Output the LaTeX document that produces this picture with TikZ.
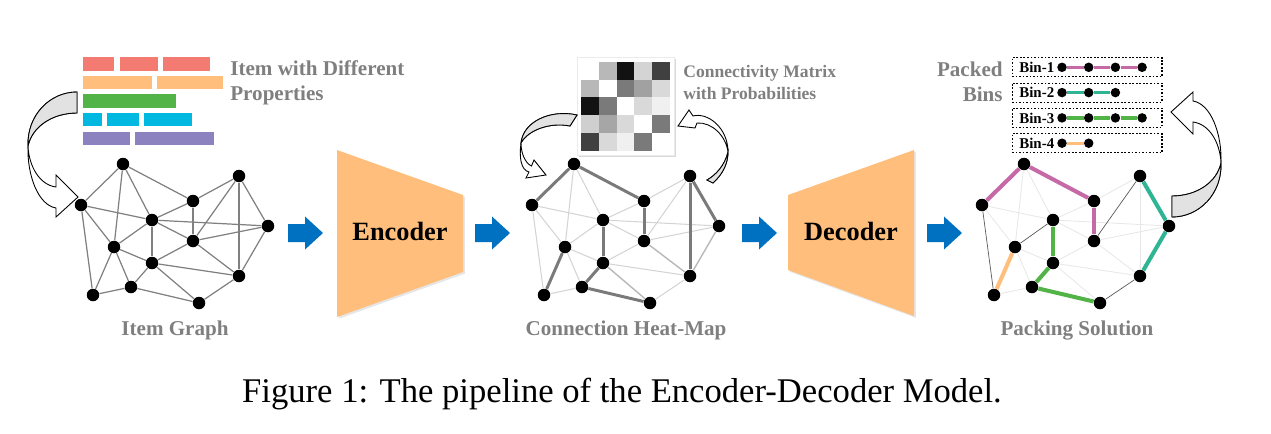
\documentclass[tikz,border=0pt]{standalone}
\usepackage{fontspec}
\setmainfont{Liberation Serif}
\usetikzlibrary{arrows.meta,shadows,positioning}

\definecolor{labgray}{HTML}{7F7F7F}
\definecolor{itemred}{HTML}{F47B72}
\definecolor{itemorange}{HTML}{FFBE7B}
\definecolor{itemgreen}{HTML}{52B447}
\definecolor{itemcyan}{HTML}{00B8E0}
\definecolor{itempurple}{HTML}{8C82C0}
\definecolor{binpink}{HTML}{C56AA6}
\definecolor{binteal}{HTML}{2FB594}
\definecolor{encfill}{HTML}{FFBE7B}
\definecolor{flowblue}{HTML}{0070C0}
\definecolor{turngray}{HTML}{E2E2E2}

\tikzstyle{vtx} = [circle, fill=black, inner sep=0pt, minimum size=0.25cm]
\tikzstyle{bindot} = [circle, fill=black, inner sep=0pt, minimum size=0.19cm]
\tikzstyle{graylabel} = [inner sep=0pt, text=labgray, font=\fontsize{12}{14.2}\selectfont\bfseries]
\tikzstyle{codertext} = [inner sep=0pt, font=\fontsize{15}{18}\selectfont\bfseries]
\tikzstyle{itemedge} = [draw=black!50, line width=0.7pt]
\tikzstyle{heatlight} = [draw=black!17, line width=0.6pt]
\tikzstyle{heatmid} = [draw=black!28, line width=0.8pt]
\tikzstyle{heatdark} = [draw=black!52, line width=1.7pt]
\tikzstyle{packfaint} = [draw=black!9, line width=0.5pt]
\tikzstyle{packthin} = [draw=black!65, line width=0.4pt]
\tikzstyle{packed} = [line width=2.3pt]
\tikzstyle{binbox} = [draw, dash pattern=on 1pt off 1pt, line width=0.6pt, minimum width=3cm, minimum height=0.38cm, inner sep=0pt]

\tikzset{
    bigturn/.pic={
        \draw[fill=white, line width=0.5pt] (-1,-105) .. controls (-28,-105) and (-51,-82) .. (-50,-51)
            .. controls (-51,-22) and (-40,8) .. (-22,11) -- (-22,20) -- (0,0) -- (-22,-22) -- (-22,-10)
            .. controls (-38,-12) and (-49,-30) .. (-50,-51)
            .. controls (-46,-70) and (-26,-84) .. (-1,-84) -- cycle;
        \draw[fill=turngray, line width=0.5pt] (-1,-105) .. controls (-28,-105) and (-51,-82) .. (-50,-51)
            .. controls (-46,-70) and (-26,-84) .. (-1,-84) -- cycle;
    },
    flowarr/.pic={
        \fill[flowblue] (0,-9) -- (17,-9) -- (17,-16.5) -- (35,0) -- (17,16.5) -- (17,9) -- (0,9) -- cycle;
    }
}

\begin{document}
\begin{tikzpicture}[x=0.02cm, y=-0.02cm]
    \useasboundingbox (0,0) rectangle (1271,433);

    % items
    \foreach \ya/\yb/\col/\xs in {57/71/itemred/{83/114,120/158,163/210},
        76/89/itemorange/{83/152,157/223}, 94/108/itemgreen/{83/176},
        113/126/itemcyan/{83/102,107/139,144/192}, 132/145/itempurple/{83/130,135/214}}
        \foreach \xa/\xb in \xs
            \fill[\col] (\xa,\ya) rectangle (\xb,\yb);

    \node[graylabel, align=left, anchor=west] (itemtxt) at (230,82.5) {
        Item with Different\\Properties
    };

    % the three graphs
    \foreach \gp/\dx in {L/0, M/451, R/901}
        \foreach \n/\x/\y in {a/123/164, b/81/205, c/239/176, d/193/201, e/152/220,
            f/268/226, g/193/241, h/114/247, i/152/263, j/239/276, k/131/287,
            l/93/295, m/199/303}
            \node[vtx] (\gp\n) at (\x+\dx,\y) {};

    \foreach \u/\v in {a/b,a/h,a/e,a/d,b/e,b/h,b/l,c/d,c/g,c/j,c/f,d/e,d/g,e/f,e/h,
        e/i,e/g,f/g,f/j,g/i,g/j,h/i,h/k,h/l,i/k,i/j,i/m,l/k,k/m,m/j}
        \draw[itemedge] (L\u) -- (L\v);

    \foreach \u/\v in {a/h,a/e,b/e,b/h,b/l,c/d,c/g,d/e,e/f,e/h,e/g,f/g,g/i,h/i,h/k,i/j,l/k,m/j}
        \draw[heatlight] (M\u) -- (M\v);
    \foreach \u/\v in {f/j,g/j,i/m}
        \draw[heatmid] (M\u) -- (M\v);
    \foreach \u/\v in {a/b,a/d,d/g,e/i,c/j,c/f,h/l,i/k,k/m}
        \draw[heatdark] (M\u) -- (M\v);

    \foreach \u/\v in {a/h,a/e,b/e,b/h,c/d,c/j,d/e,e/f,e/g,f/g,g/i,g/j,h/i,h/k,i/j,i/m,l/k}
        \draw[packfaint] (R\u) -- (R\v);
    \foreach \u/\v in {b/l,c/g,e/h,m/j}
        \draw[packthin] (R\u) -- (R\v);
    \foreach \u/\v/\col in {a/b/binpink,a/d/binpink,d/g/binpink,c/f/binteal,f/j/binteal,
        e/i/itemgreen,i/k/itemgreen,k/m/itemgreen,h/l/itemorange}
        \draw[packed, \col] (R\u) -- (R\v);

    \pic at (78,197) {bigturn};
    \pic[rotate=180] at (1171,112) {bigturn};

    % connectivity matrix
    \node[fill=white, draw=black!8, drop shadow={opacity=0.3, shadow xshift=1.2pt, shadow yshift=-1.2pt},
        minimum width=1.94cm, minimum height=1.96cm, inner sep=0pt] (mat) at (625.5,106) {};
    \foreach \r/\row in {1/{0,28,93,17,75}, 2/{28,0,52,37,15}, 3/{93,52,0,15,6},
        4/{19,35,15,0,52}, 5/{75,15,6,52,0}}
        \foreach \v [count=\c] in \row
            \fill[black!\v] (563.2+17.8*\c, 43.9+17.8*\r) rectangle +(17.8,17.8);

    \node[graylabel, align=left, anchor=west, font=\fontsize{10}{12}\selectfont\bfseries] (mattxt) at (683,82.5) {
        Connectivity Matrix\\with Probabilities
    };

    \draw[fill=white, line width=0.5pt] (577,115) .. controls (550,109) and (523,122) .. (521,143)
        .. controls (519,158) and (521,170) .. (529,172) -- (526,178) -- (546,175) -- (534,160) -- (531.5,166)
        .. controls (525,163) and (521,153) .. (521,143)
        .. controls (528,130) and (550,122) .. (570,126) -- cycle;
    \draw[fill=turngray, line width=0.5pt] (577,115) .. controls (550,109) and (523,122) .. (521,143)
        .. controls (528,130) and (550,122) .. (570,126) -- cycle;

    \draw[fill=white, line width=0.5pt] (713,183) .. controls (723,174) and (728,163) .. (728,152)
        .. controls (728,128) and (708,112) .. (693,116) -- (689,110) -- (678,126) -- (695,128) -- (697,123)
        .. controls (712,122) and (726,136) .. (728,152)
        .. controls (725,165) and (716,175) .. (707,180) -- cycle;
    \draw[fill=turngray, line width=0.5pt] (713,183) .. controls (723,174) and (728,163) .. (728,152)
        .. controls (725,165) and (716,175) .. (707,180) -- cycle;

    % encoder / decoder
    \fill[encfill, drop shadow={opacity=0.2, shadow xshift=1pt, shadow yshift=-1pt}]
        (337,150) -- (463,195) -- (463,272) -- (337,317) -- cycle;
    \node[codertext, anchor=base] (enc) at (400,240) {Encoder};

    \fill[encfill, drop shadow={opacity=0.2, shadow xshift=1pt, shadow yshift=-1pt}]
        (788,195) -- (914,150) -- (914,316) -- (788,270) -- cycle;
    \node[codertext, anchor=base] (dec) at (851,240) {Decoder};

    \foreach \x in {288,475,742,927}
        \pic at (\x,233) {flowarr};

    % packed bins
    \node[graylabel, align=right, anchor=east] (bintxt) at (1003,82) {Packed\\Bins};
    \foreach \k/\n/\col in {1/4/binpink, 2/3/binteal, 3/4/itemgreen, 4/2/itemorange} {
        \node[binbox] (box\k) at (1087,42+25.3*\k) {};
        \node[inner sep=0pt, anchor=west, font=\fontsize{8.5}{10}\selectfont\bfseries] (binlab\k) at (1019,42+25.3*\k) {Bin-\k};
        \foreach \j in {1,...,\n}
            \node[bindot] (bin\k-\j) at (1062+26.7*\j-26.7,42+25.3*\k) {};
        \foreach \j [remember=\j as \i (initially 1)] in {2,...,\n}
            \draw[packed, line width=1.9pt, \col] (bin\k-\i) -- (bin\k-\j);
    }

    \node[graylabel, anchor=base] (lab1) at (175,335) {Item Graph};
    \node[graylabel, anchor=base] (lab2) at (626,335) {Connection Heat-Map};
    \node[graylabel, anchor=base] (lab3) at (1077,335) {Packing Solution};

    \node[inner sep=0pt, anchor=base, font=\fontsize{19.7}{23}\selectfont] (caption) at (622,402) {
        Figure 1: The pipeline of the Encoder-Decoder Model.
    };
    %\draw[help lines] (0,0) grid[step=50] (1271,433);

\end{tikzpicture}
\end{document}
